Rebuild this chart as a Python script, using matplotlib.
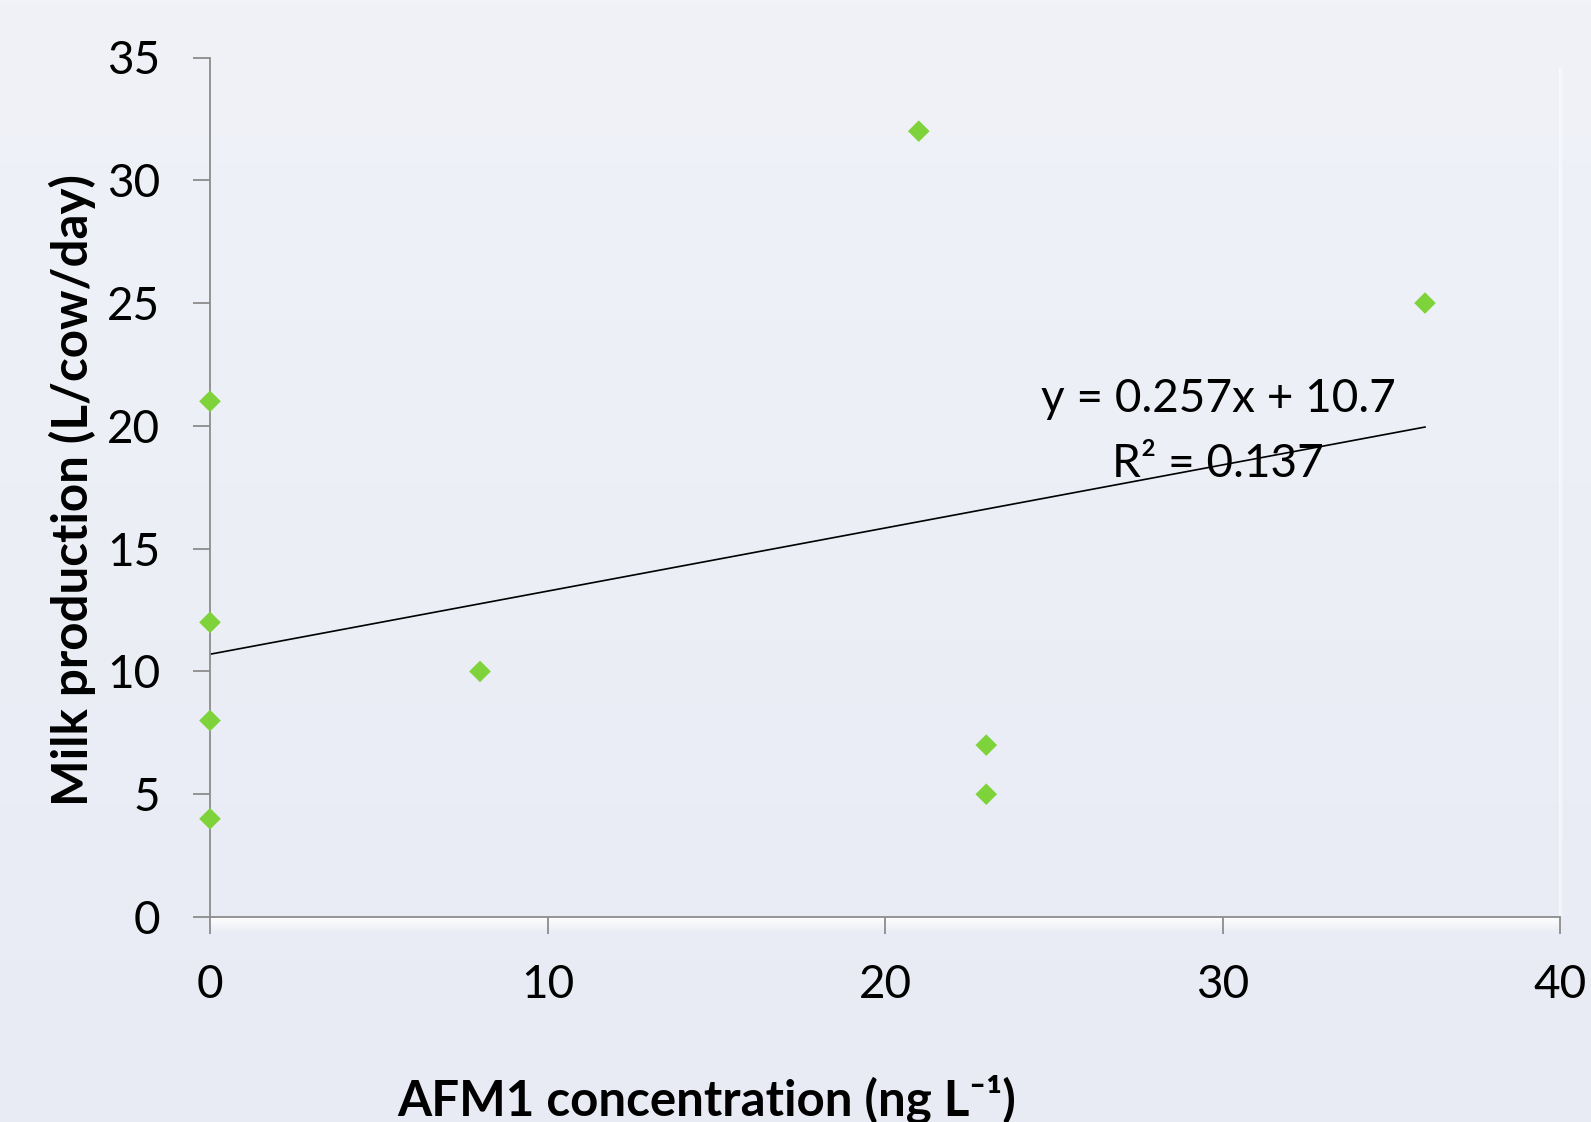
import numpy as np
import matplotlib
matplotlib.use("Agg")
import matplotlib.pyplot as plt
from matplotlib.colors import LinearSegmentedColormap

# ---- data ----
afm1 = [0, 0, 0, 0, 8, 21, 23, 23, 36]
milk = [21, 12, 8, 4, 10, 32, 7, 5, 25]
trend_slope = 0.257
trend_intercept = 10.7
r_squared = 0.137
x_ticks = [0, 10, 20, 30, 40]
y_ticks = [0, 5, 10, 15, 20, 25, 30, 35]
x_label = "AFM1 concentration (ng L\u207b\u00b9)"
y_label = "Milk production (L/cow/day)"

plt.rcParams['font.family'] = ['Lato', 'DejaVu Sans']

W, H = 1591, 1122
fig = plt.figure(figsize=(W / 100, H / 100), dpi=100)

# background gradient
bg = fig.add_axes([0, 0, 1, 1], zorder=-10)
grad = np.linspace(0, 1, 256).reshape(-1, 1)
cmap_bg = LinearSegmentedColormap.from_list("bg", ["#F0F2F8", "#E8EBF4"])
bg.imshow(grad, aspect='auto', cmap=cmap_bg, extent=[0, 1, 0, 1], origin='upper')
bg.set_axis_off()

x0, x1 = 210, 1560
y0, y1 = 917, 57.5
ax = fig.add_axes([x0 / W, 1 - y0 / H, (x1 - x0) / W, (y0 - y1) / H])
ax.set_facecolor('none')

# white shadow band below x-axis
band = fig.add_axes([x0 / W, 1 - (y0 + 16) / H, (x1 - x0) / W, 16 / H], zorder=-5)
cmap_band = LinearSegmentedColormap.from_list("band", [(1, 1, 1, 1), (1, 1, 1, 0)])
band.imshow(grad, aspect='auto', cmap=cmap_band, extent=[0, 1, 0, 1], origin='upper')
band.set_axis_off()
# faint right band
rband = fig.add_axes([(x1 - 1) / W, 1 - y0 / H, 5 / W, (y0 - 67) / H], zorder=-5)
rband.imshow(np.linspace(0, 1, 64).reshape(1, -1), aspect='auto',
             cmap=LinearSegmentedColormap.from_list("rb", [(1, 1, 1, 0.7), (1, 1, 1, 0)]),
             extent=[0, 1, 0, 1])
rband.set_axis_off()

ax.scatter(afm1, milk, marker='D', s=11 ** 2, color='#7ED23A', edgecolors='none',
           zorder=3, clip_on=False)

xt = np.array([0, max(afm1)])
ax.plot(xt, trend_slope * xt + trend_intercept, color='black', lw=1.2, zorder=2)

ax.text(29.87, 20.56, f"y = {trend_slope}x + {trend_intercept}", ha='center', va='baseline',
        fontsize=33, color='black')
ax.text(29.87, 17.92, f"R\u00b2 = {r_squared}", ha='center', va='baseline',
        fontsize=33, color='black')

ax.set_xlim(0, 40)
ax.set_ylim(0, 35)
ax.set_xticks(x_ticks)
ax.set_yticks(y_ticks)
for s in ['top', 'right']:
    ax.spines[s].set_visible(False)
for s in ['left', 'bottom']:
    ax.spines[s].set_color('#8C8C8C')
    ax.spines[s].set_linewidth(1.3)
ax.tick_params(axis='both', direction='out', length=12, width=1.3, color='#8C8C8C',
               labelsize=33, labelcolor='black', pad=24)
ax.tick_params(axis='x', pad=22)

fig.text(707 / W, 1 - 1099 / H, x_label, ha='center', va='center', fontsize=35.5,
         fontweight='bold')
fig.text(72 / W, 1 - 490 / H, y_label, ha='center', va='center', rotation=90,
         fontsize=35.5, fontweight='bold')

fig.savefig("out.png", dpi=100)
